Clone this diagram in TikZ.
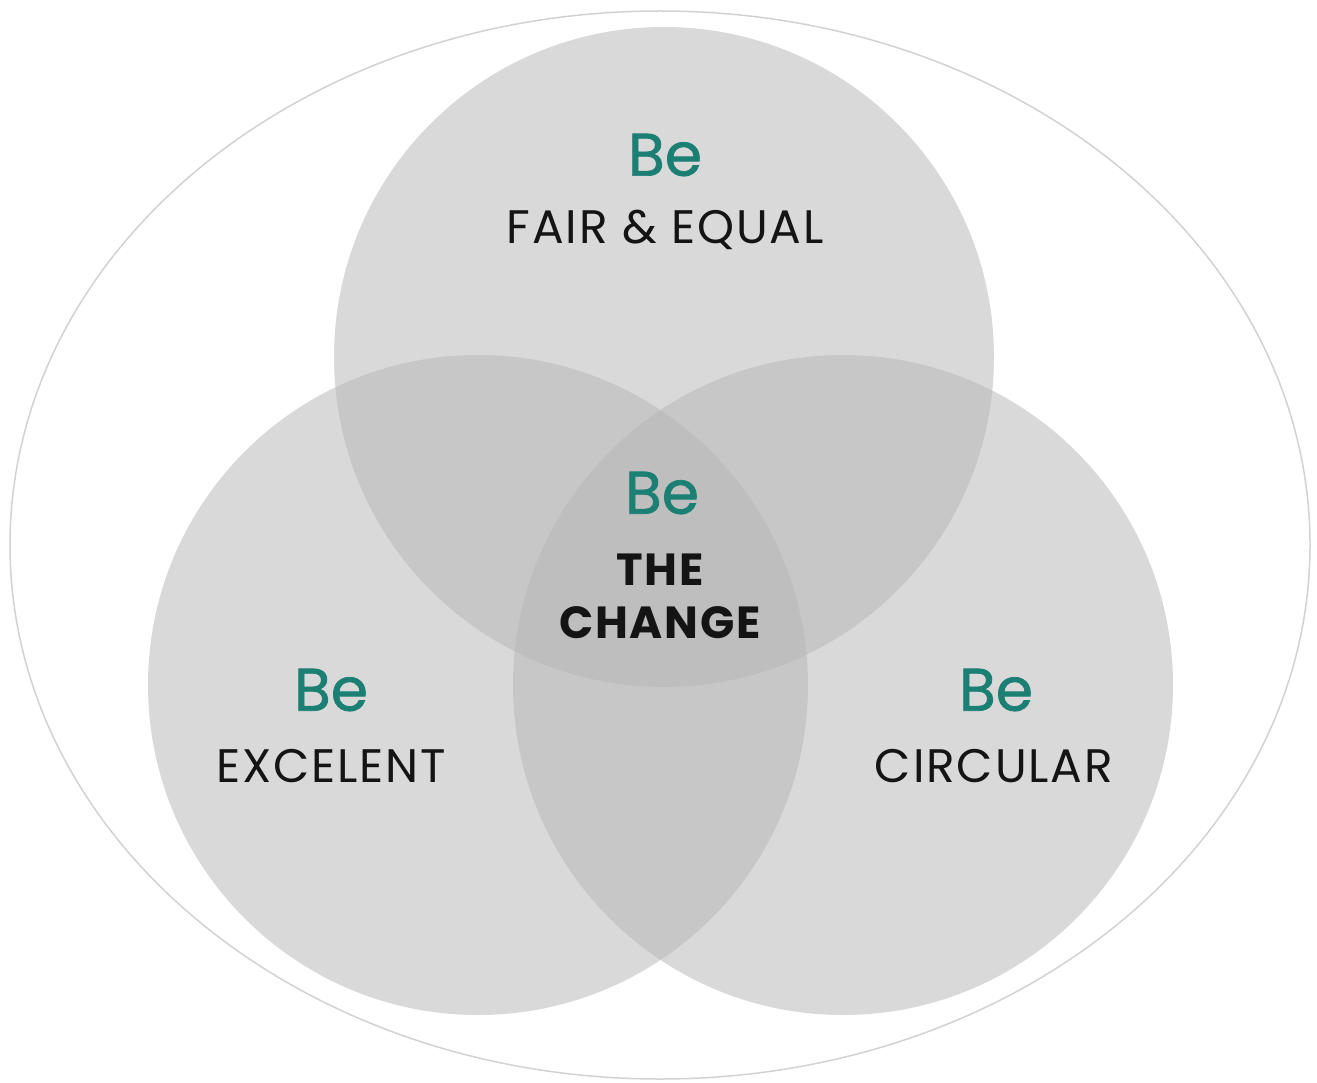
\documentclass[tikz,border=0pt]{standalone}
\usepackage{fontspec}
\setmainfont{Poppins}
\definecolor{teal}{HTML}{1B7F73}
\definecolor{circfill}{RGB}{183,183,183}
\definecolor{outline}{RGB}{210,210,210}
\definecolor{txt}{RGB}{20,20,20}
\begin{document}
\begin{tikzpicture}[x=1pt,y=-1pt,
  venn/.style={fill=circfill,fill opacity=0.53},
  belabel/.style={text=teal,font=\fontsize{60}{60}\selectfont\addfontfeature{FakeBold=1.2},inner sep=0pt},
  namelabel/.style={text=txt,font=\fontsize{47}{52}\selectfont\addfontfeature{LetterSpace=4},inner sep=0pt},
  centerlabel/.style={text=txt,font=\fontsize{45}{53}\selectfont\bfseries\addfontfeature{LetterSpace=4},inner sep=0pt,align=center}]
\useasboundingbox (0,0) rectangle (1317,1083);
\draw[outline,line width=1.5pt] (660,545) ellipse [x radius=650, y radius=534];
\fill[venn] (664,357) circle [radius=330];
\fill[venn] (478,685) circle [radius=330];
\fill[venn] (843,685) circle [radius=330];
\node[belabel] (beTop) at (665,155) {Be};
\node[namelabel] (fair) at (665,230) {FAIR \& EQUAL};
\node[belabel] (beCenter) at (662,493) {Be};
\node[centerlabel] (change) at (660,596) {THE\\CHANGE};
\node[belabel] (beLeft) at (331,690) {Be};
\node[namelabel] (excel) at (331,766) {EXCELENT};
\node[belabel] (beRight) at (996,690) {Be};
\node[namelabel] (circ) at (994,766) {CIRCULAR};
\end{tikzpicture}
\end{document}
